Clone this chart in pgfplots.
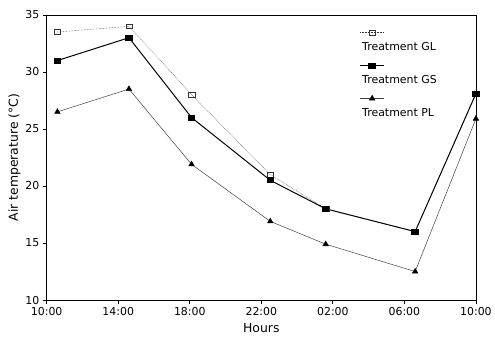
\documentclass[border=0pt]{standalone}
\usepackage{pgfplots}
\pgfplotsset{compat=1.18}
\usepackage{fontspec}
\setmainfont{DejaVu Sans}
\begin{document}
\begin{tikzpicture}
\begin{axis}[
  scale only axis, width=432pt, height=287pt,
  xmin=0, xmax=24, ymin=10, ymax=35,
  xtick={0,4,8,12,16,20,24},
  xticklabels={10:00,14:00,18:00,22:00,02:00,06:00,10:00},
  ytick={10,15,...,35},
  tick align=outside, tick pos=left,
  major tick length=4pt,
  axis line style={line width=0.8pt},
  every tick/.style={line width=0.8pt, black},
  /pgf/number format/assume math mode=true,
  tick label style={font=\fontsize{11}{13}\selectfont},
  xlabel={Hours}, ylabel={Air temperature (°C)},
  label style={font=\fontsize{12.5}{14}\selectfont},
  xlabel style={yshift=-1pt},
  ylabel style={yshift=-2pt},
  legend cell align=left,
  legend style={at={(0.73,0.91)}, anchor=north west, draw=none, fill=none,
    font=\fontsize{11}{13}\selectfont, row sep=19.5pt, inner sep=0pt, column sep=0pt},
  legend image code/.code={\draw[mark repeat=2,mark phase=2,#1,overlay] plot coordinates {(0pt,15pt) (12pt,15pt) (24pt,15pt)};},
]
\addplot[black!80, line width=0.5pt, densely dotted, mark=square, mark size=2.3pt,
  mark options={solid, xscale=1.4, fill=white}]
  coordinates {(0.6,33.5) (4.6,34.0) (8.1,28.0) (12.5,21.0) (15.6,18.0) (20.6,16.0) (24,28.1)};
\addlegendentry{Treatment GL}
\addplot[black, line width=1.0pt, mark=square*, mark size=2.5pt,
  mark options={solid, xscale=1.3}]
  coordinates {(0.6,31.0) (4.6,33.0) (8.1,26.0) (12.5,20.5) (15.6,18.0) (20.6,16.0) (24,28.1)};
\addlegendentry{Treatment GS}
\addplot[black!75, line width=0.5pt, mark=triangle*, mark size=3.2pt,
  mark options={solid, black}]
  coordinates {(0.6,26.5) (4.6,28.5) (8.1,21.9) (12.5,16.9) (15.6,14.9) (20.6,12.5) (24,25.9)};
\addlegendentry{Treatment PL}
\end{axis}
\path (current axis.south west) +(-47pt,-37pt) (current axis.north east) +(16pt,15pt);
\end{tikzpicture}
\end{document}
